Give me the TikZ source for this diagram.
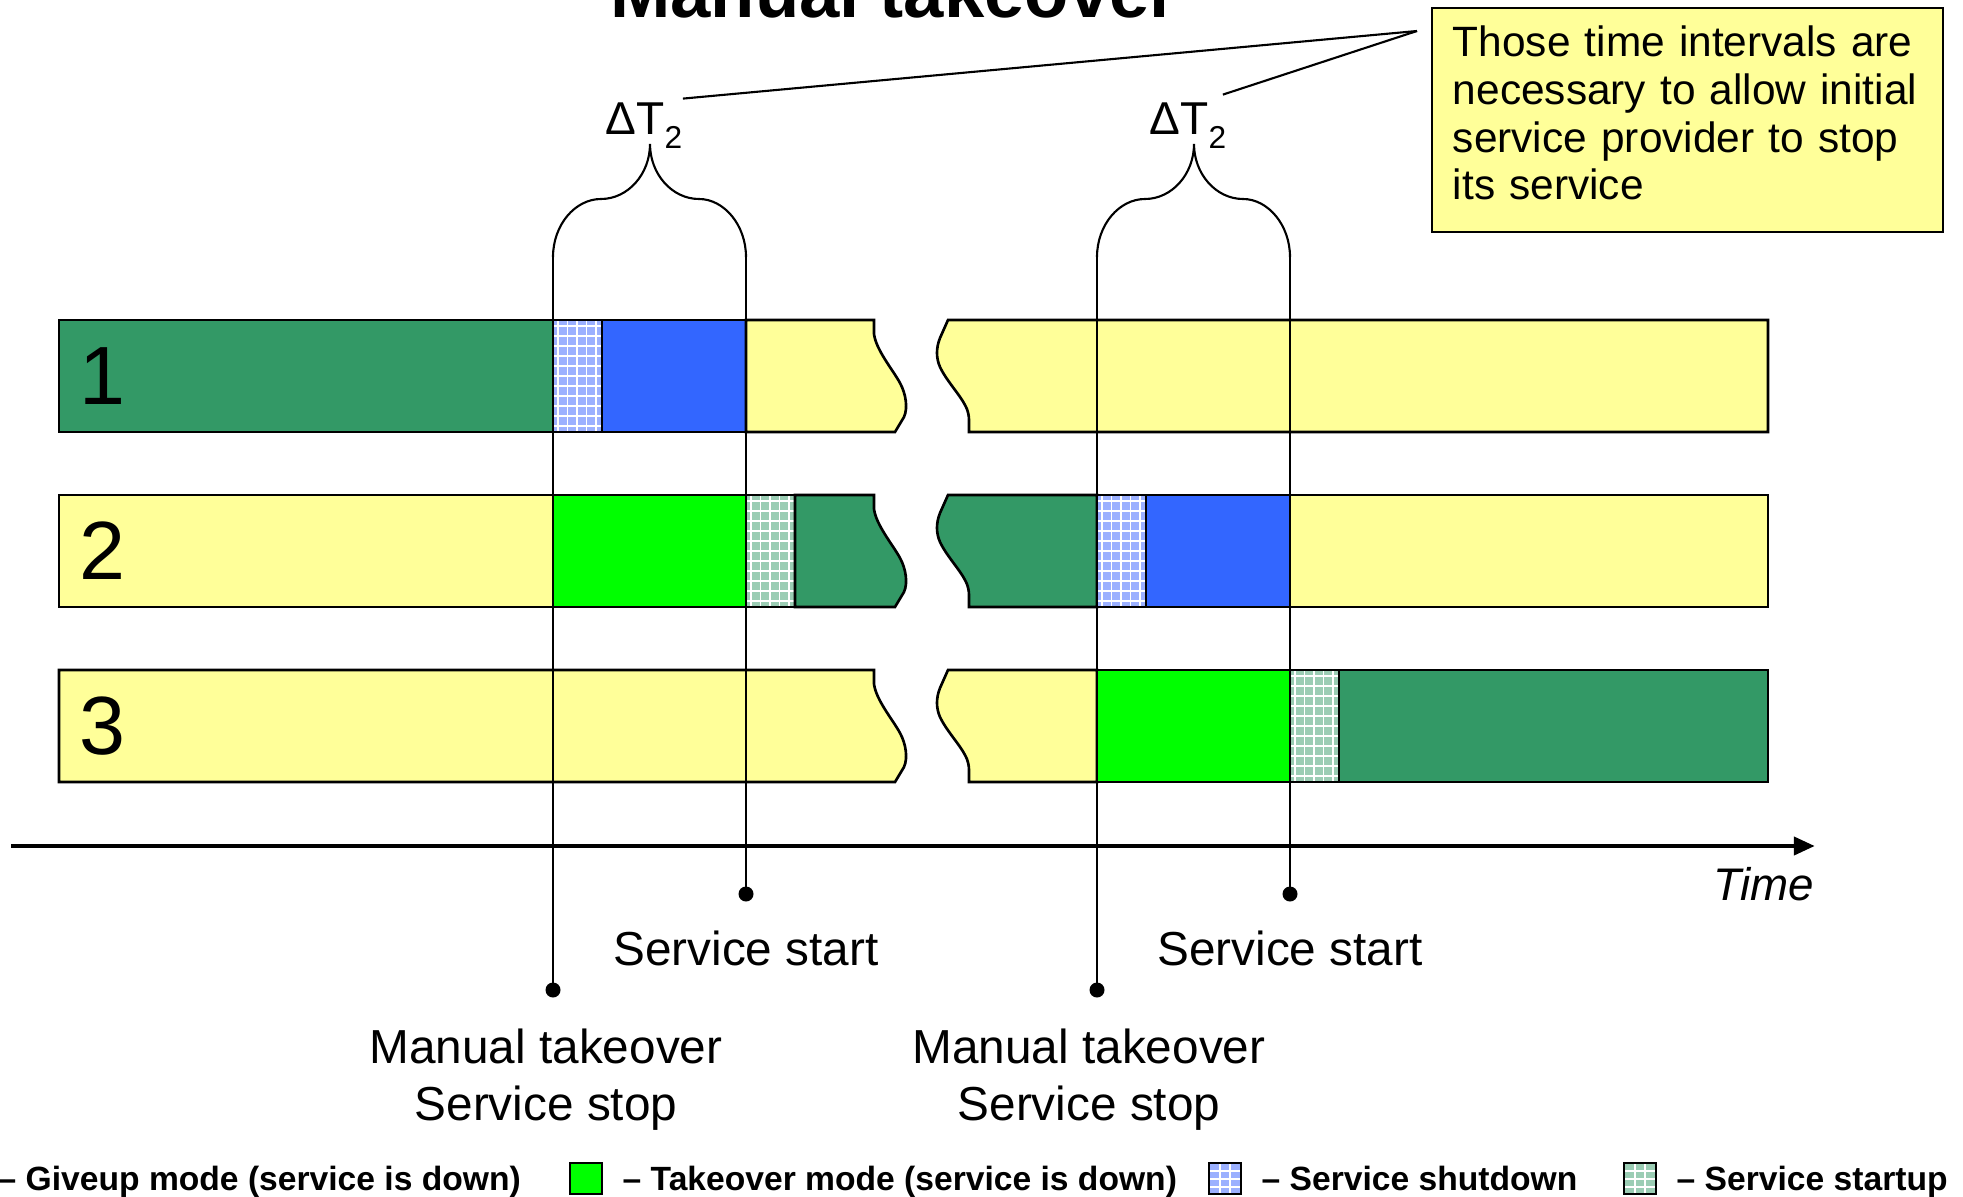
\documentclass[tikz,border=0pt]{standalone}
\usepackage{fontspec}
\setmainfont{Liberation Sans}
\usetikzlibrary{arrows.meta}

\definecolor{upgreen}{RGB}{51,153,102}
\definecolor{idleyellow}{RGB}{255,255,153}
\definecolor{downblue}{RGB}{51,102,255}
\definecolor{takegreen}{RGB}{0,255,0}
\definecolor{shutblue}{RGB}{155,176,255}
\definecolor{startgreen}{RGB}{155,205,180}

\tikzset{
  barline/.style={draw=black, line width=0.75pt, line join=miter},
  vline/.style={draw=black, line width=0.65pt},
  thinline/.style={draw=black, line width=0.6pt},
  gridw/.style={draw=white, line width=0.35pt},
  axisline/.style={draw=black, line width=1.4pt, -{Triangle[length=6pt,width=5pt]}},
  dot/.style={circle, fill=black, inner sep=0pt, minimum size=0.15cm},
  lbl/.style={inner sep=0pt, font=\fontsize{13.57}{16.2}\selectfont},
  rownum/.style={inner sep=0pt, font=\fontsize{23.5}{28}\selectfont},
  dtlabel/.style={anchor=base west, inner sep=0pt, font=\fontsize{13.1}{15}\selectfont},
  notebox/.style={draw=black, line width=0.6pt, fill=idleyellow, inner sep=0pt,
    minimum width=5.11cm, minimum height=2.24cm, text width=4.69cm, align=left,
    font=\fontsize{12.06}{13.54}\selectfont},
  legtext/.style={anchor=base west, inner sep=0pt, font=\bfseries\fontsize{9.56}{11}\selectfont},
  swatch/.style={draw=black, line width=0.5pt, minimum width=0.32cm, minimum height=0.31cm, inner sep=0pt},
  swatchgrid/.style={path picture={
      \foreach \hx in {11,21}
        \draw[gridw] ([shift={(\hx,0)}]path picture bounding box.north west)
                  -- ([shift={(\hx,0)}]path picture bounding box.south west);
      \foreach \hy in {8,16,24}
        \draw[gridw] ([shift={(0,\hy)}]path picture bounding box.north west)
                  -- ([shift={(0,\hy)}]path picture bounding box.north east);}},
}

% plain bar segment: x1, x2, top, colour
\newcommand\seg[4]{\filldraw[barline, fill=#4] (#1,#3) rectangle (#2,#3+112);}
% gridded transition segment: x1, x2, top, colour
\newcommand\gridcell[4]{%
  \fill[#4] (#1,#3) rectangle (#2,#3+112);
  \begin{scope}
    \clip (#1,#3) rectangle (#2,#3+112);
    \foreach \hx in {5,14.5,...,60} \draw[gridw] (#1+\hx,#3) -- (#1+\hx,#3+112);
    \foreach \hy in {6,16,...,115} \draw[gridw] (#1,#3+\hy) -- (#2,#3+\hy);
  \end{scope}
  \draw[barline] (#1,#3) rectangle (#2,#3+112);}
% last segment before the time break: x1, top, colour
\newcommand\leftend[3]{\filldraw[barline, fill=#3] (#1,#2) -- (874,#2) -- (874,#2+14)
  .. controls (876,#2+30) and (893,#2+50) .. (900,#2+63)
  .. controls (906,#2+74) and (908,#2+88) .. (904,#2+97)
  -- (895,#2+112) -- (#1,#2+112) -- cycle;}
% first segment after the time break: x2, top, colour
\newcommand\rightstart[3]{\filldraw[barline, fill=#3] (948,#2) -- (#1,#2) -- (#1,#2+112)
  -- (969,#2+112) -- (969,#2+100)
  .. controls (969,#2+96) and (968,#2+90) .. (965,#2+85)
  .. controls (960,#2+75) and (946,#2+60) .. (940,#2+47)
  .. controls (936,#2+38) and (936,#2+28) .. (940,#2+18) -- cycle;}
% curly brace over an interval starting at x
\newcommand\dtbrace[1]{\draw[thinline] (#1,257)
  .. controls (#1,225) and (#1+22,199) .. (#1+48,199)
  .. controls (#1+75,199) and (#1+97,174) .. (#1+97,144)
  .. controls (#1+97,174) and (#1+119,199) .. (#1+146,199)
  .. controls (#1+171,199) and (#1+193,225) .. (#1+193,257);}

\begin{document}
\begin{tikzpicture}[x=0.01cm, y=-0.01cm]
\useasboundingbox (0,0) rectangle (1963,1197);

% title
\node[anchor=base, inner sep=0pt, font=\bfseries\fontsize{20.6}{24}\selectfont] (title) at (894,18) {Manual takeover};

% row 1
\seg{59}{553}{320}{upgreen}
\gridcell{553}{602}{320}{shutblue}
\seg{602}{746}{320}{downblue}
\leftend{746}{320}{idleyellow}
\rightstart{1768}{320}{idleyellow}
% row 2
\seg{59}{553}{495}{idleyellow}
\seg{553}{746}{495}{takegreen}
\gridcell{746}{795}{495}{startgreen}
\leftend{795}{495}{upgreen}
\rightstart{1097}{495}{upgreen}
\gridcell{1097}{1146}{495}{shutblue}
\seg{1146}{1290}{495}{downblue}
\seg{1290}{1768}{495}{idleyellow}
% row 3
\leftend{59}{670}{idleyellow}
\rightstart{1097}{670}{idleyellow}
\seg{1097}{1290}{670}{takegreen}
\gridcell{1290}{1339}{670}{startgreen}
\seg{1339}{1768}{670}{upgreen}

% row numbers
\node[rownum] (r1) at (102,376) {1};
\node[rownum] (r2) at (102,551) {2};
\node[rownum] (r3) at (102,726) {3};

% interval braces
\dtbrace{553}
\dtbrace{1097}

% event markers
\coordinate (stop1top) at (553,257);
\coordinate (start1top) at (746,257);
\coordinate (stop2top) at (1097,257);
\coordinate (start2top) at (1290,257);
\node[dot] (stop1) at (553,990) {};
\node[dot] (start1) at (746,894) {};
\node[dot] (stop2) at (1097,990) {};
\node[dot] (start2) at (1290,894) {};
\draw[vline] (stop1top) -- (stop1.center);
\draw[vline] (start1top) -- (start1.center);
\draw[vline] (stop2top) -- (stop2.center);
\draw[vline] (start2top) -- (start2.center);

% time axis
\coordinate (ax0) at (11,846);
\coordinate (ax1) at (1815,846);
\draw[axisline] (ax0) -- (ax1);
\node[anchor=east, inner sep=0pt, font=\itshape\fontsize{13}{15}\selectfont] (time) at (1815,884) {Time};

% event labels
\node[lbl, anchor=base] (sslbl1) at (746,965) {Service start};
\node[lbl, anchor=base] (sslbl2) at (1290,965) {Service start};
\node[lbl, align=center] (mtlbl1) at (546,1080) {Manual takeover\\Service stop};
\node[lbl, align=center] (mtlbl2) at (1089,1080) {Manual takeover\\Service stop};

% interval labels and note
\node[dtlabel] (dt1) at (605,135) {ΔT\raisebox{-3.7pt}{\fontsize{9}{9}\selectfont 2}};
\node[dtlabel] (dt2) at (1149,135) {ΔT\raisebox{-3.7pt}{\fontsize{9}{9}\selectfont 2}};
\node[notebox] (note) at (1687.5,120) {Those time intervals are\\necessary to allow initial\\service provider to stop\\its service\rule[-4pt]{0pt}{4pt}};
\coordinate (meet) at (1417,31);
\draw[thinline] ([shift={(0,-4)}]dt1.north east) -- (meet);
\draw[thinline] ([shift={(-4,-8)}]dt2.north east) -- (meet);

% legend
\node[legtext] (lg1) at (-3,1190) {– Giveup mode (service is down)};
\node[swatch, fill=takegreen] (sw2) at (586,1178.5) {};
\node[legtext] (lg2) at (622,1190) {– Takeover mode (service is down)};
\node[swatch, fill=shutblue, swatchgrid] (sw3) at (1225,1178.5) {};
\node[legtext] (lg3) at (1261,1190) {– Service shutdown};
\node[swatch, fill=startgreen, swatchgrid] (sw4) at (1640,1178.5) {};
\node[legtext] (lg4) at (1676,1190) {– Service startup};
\end{tikzpicture}
\end{document}
